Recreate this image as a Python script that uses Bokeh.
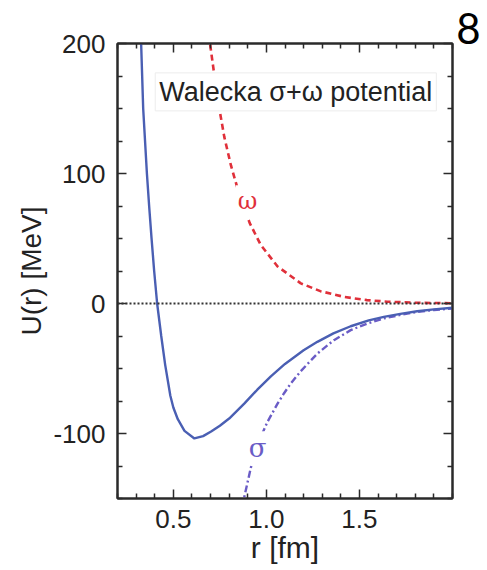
from bokeh.plotting import figure
from bokeh.models import Range1d, FixedTicker, LinearAxis, Span, Label, Title
from bokeh.embed import file_html
from bokeh.resources import INLINE

# ---- data ----
r_total = [0.31, 0.327, 0.338, 0.358, 0.370, 0.383, 0.397, 0.413, 0.435, 0.456, 0.484, 0.50, 0.524,
           0.56, 0.613, 0.66, 0.703, 0.75, 0.80, 0.881, 0.95, 1.024, 1.10, 1.20, 1.274, 1.36, 1.453,
           1.55, 1.631, 1.72, 1.81, 1.90, 2.00]
u_total = [270, 200, 150, 100, 75, 50, 25, 0, -25, -47, -71, -80, -89,
           -98, -103.8, -102, -98.5, -94, -88.5, -77, -66.5, -56, -46.5, -36, -29.5, -23, -17.5,
           -13, -10.3, -8, -6, -4.5, -3.3]

r_omega = [0.68, 0.697, 0.72, 0.747, 0.774, 0.81, 0.846, 0.91, 0.97, 1.06, 1.185, 1.29, 1.42,
           1.54, 1.65, 1.80, 2.00]
u_omega = [222, 200, 176, 150, 128, 106, 88, 62, 45, 28.5, 15.5, 9.5, 5, 2.6, 1.4, 0.6, 0.2]

r_sigma = [0.86, 0.881, 0.917, 0.96, 1.006, 1.06, 1.095, 1.131, 1.185, 1.274, 1.363, 1.453, 1.54,
           1.631, 1.72, 1.81, 1.90, 2.00]
u_sigma = [-168, -149, -126, -106, -91, -77, -69, -61.5, -52, -38.5, -28.2, -20.5, -15.5,
           -11.5, -8.8, -6.5, -5.0, -3.8]

x_major = [0.5, 1.0, 1.5]
x_tick_labels = ["0.5", "1.0", "1.5"]
x_minor = [0.2, 0.3, 0.4, 0.6, 0.7, 0.8, 0.9, 1.1, 1.2, 1.3, 1.4, 1.6, 1.7, 1.8, 1.9, 2.0]
y_major = [-100, 0, 100, 200]
y_tick_labels = ["-100", "0", "100", "200"]
y_minor = [-150, -125, -75, -50, -25, 25, 50, 75, 125, 150, 175]

title_text = "Walecka σ+ω potential"
x_label = "r [fm]"
y_label = "U(r) [MeV]"
page_number = "8"

BLUE = "#4a5fb3"
RED = "#e0303a"
PURPLE = "#6a5cc6"
FRAME = "#2a2a2a"
FONT = "Liberation Sans"

p = figure(width=487, height=570, output_backend="svg", toolbar_location=None,
           x_range=Range1d(0.2, 2.0), y_range=Range1d(-150, 200),
           min_border_left=117, min_border_right=35, min_border_top=43, min_border_bottom=72)
p.grid.visible = False
p.outline_line_color = FRAME
p.outline_line_width = 2
p.background_fill_color = "white"
p.border_fill_color = "white"

# page number as a right-aligned title above the frame
p.title.text = page_number
p.title.align = "right"
p.title.offset = -28
p.title.standoff = 0
p.title.text_font = "Lato"
p.title.text_font_size = "42px"
p.title.text_font_style = "normal"
p.title.text_color = "black"

def style_axis(ax, ticks, minor, labels, fsize, standoff):
    ax.ticker = FixedTicker(ticks=ticks, minor_ticks=minor)
    if labels is not None:
        ax.major_label_overrides = {t: l for t, l in zip(ticks, labels)}
    ax.axis_line_color = FRAME
    ax.axis_line_width = 2
    ax.major_tick_line_color = FRAME
    ax.minor_tick_line_color = FRAME
    ax.major_tick_line_width = 1.5
    ax.minor_tick_line_width = 1.5
    ax.major_tick_in = 9
    ax.major_tick_out = 0
    ax.minor_tick_in = 5
    ax.minor_tick_out = 0
    ax.major_label_text_font = FONT
    ax.major_label_text_font_size = fsize
    ax.major_label_text_color = "#222222"
    ax.major_label_standoff = standoff

xa = p.xaxis[0]
style_axis(xa, x_major, x_minor, x_tick_labels, "26px", 11)

ya = p.yaxis[0]
style_axis(ya, y_major, y_minor, y_tick_labels, "26px", 12)

# axis labels as side titles so that they can be shifted like the reference
p.add_layout(Title(text=y_label, align="center", offset=32, standoff=8,
                   text_font=FONT, text_font_size="28px", text_font_style="normal",
                   text_color="#222222"), "left")
p.add_layout(Title(text=x_label, align="center", offset=6, standoff=0,
                   text_font=FONT, text_font_size="30px", text_font_style="normal",
                   text_color="#222222", vertical_align="top"), "below")

top = LinearAxis()
style_axis(top, x_major, x_minor, None, "0px", 0)
top.major_label_text_color = None
p.add_layout(top, "above")
right = LinearAxis()
style_axis(right, y_major, y_minor, None, "0px", 0)
right.major_label_text_color = None
p.add_layout(right, "right")

# zero line
p.add_layout(Span(location=0, dimension="width", line_color="#333333",
                  line_width=2, line_dash="2 2"))

p.line(r_omega, u_omega, line_color=RED, line_width=2.6, line_dash="6 4")
p.line(r_sigma, u_sigma, line_color=PURPLE, line_width=2.4, line_dash="7 3 2 3")
p.line(r_total, u_total, line_color=BLUE, line_width=2.4)

p.add_layout(Label(x=1.158, y=162.8, text=title_text, text_align="center",
                   text_baseline="alphabetic", text_font=FONT, text_font_size="27px",
                   text_color="#222222", background_fill_color="white",
                   border_line_color="#ececec", padding=4))
p.add_layout(Label(x=0.899, y=78.7, text="ω", text_align="center", text_baseline="middle",
                   text_font="DejaVu Serif", text_font_size="24px", text_color=RED,
                   background_fill_color="white", padding=2))
p.add_layout(Label(x=0.953, y=-111.3, text="σ", text_align="center", text_baseline="middle",
                   text_font="DejaVu Serif", text_font_size="26px", text_color=PURPLE,
                   background_fill_color="white", padding=2))

open("out.html", "w").write(file_html(p, INLINE))
